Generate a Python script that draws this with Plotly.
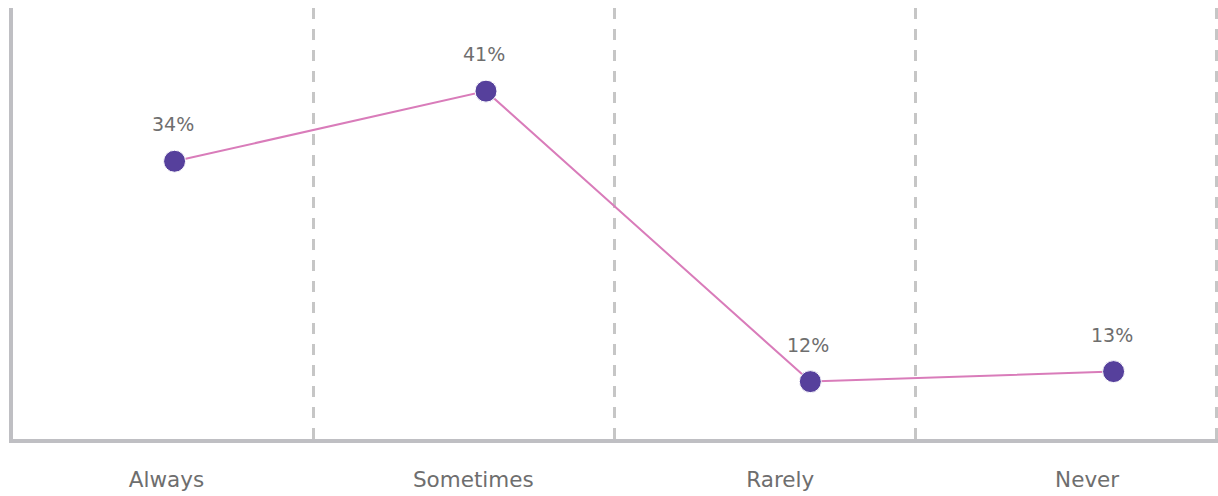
import plotly.graph_objects as go

# Survey response frequencies
categories = ["Always", "Sometimes", "Rarely", "Never"]
shares = [34, 41, 12, 13]
share_labels = ["34%", "41%", "12%", "13%"]

# horizontal placement inside each category band (band units)
point_pos = [0.537, 1.572, 2.650, 3.658]
label_pos = [0.51, 1.53, 2.55, 3.57]

text_color = "#6e6e6e"
font_family = "DejaVu Sans, sans-serif"

fig = go.Figure()

fig.add_trace(go.Scatter(
    x=point_pos,
    y=shares,
    mode="lines+markers",
    line=dict(color="#d97cba", width=2),
    marker=dict(color="#56409c", size=22, line=dict(color="white", width=1)),
    hoverinfo="skip",
    showlegend=False,
))

for xp, yv, txt in zip(point_pos, shares, share_labels):
    fig.add_annotation(
        x=xp, y=yv, text=txt, showarrow=False,
        xshift=-2, yshift=37,
        font=dict(size=19, color=text_color, family=font_family),
    )

fig.update_layout(
    width=1218,
    height=496,
    margin=dict(l=13, r=0, t=8, b=57),
    plot_bgcolor="white",
    paper_bgcolor="white",
    font=dict(family=font_family, color=text_color),
    xaxis=dict(
        range=[0, 4.005],
        tickvals=label_pos,
        ticktext=categories,
        tickfont=dict(size=21.5, color=text_color),
        ticks="",
        ticklabelstandoff=18,
        showgrid=False,
        zeroline=False,
        showline=True,
        linecolor="#bfbfc3",
        linewidth=4,
        minor=dict(
            tickvals=[1, 2, 3, 4],
            showgrid=True,
            gridcolor="#c6c6c6",
            gridwidth=2.5,
            griddash="11px,10px",
        ),
    ),
    yaxis=dict(
        range=[6.27, 49.3],
        showticklabels=False,
        ticks="",
        showgrid=False,
        zeroline=False,
        showline=True,
        linecolor="#bfbfc3",
        linewidth=4,
    ),
)

fig.write_html("out.html")
